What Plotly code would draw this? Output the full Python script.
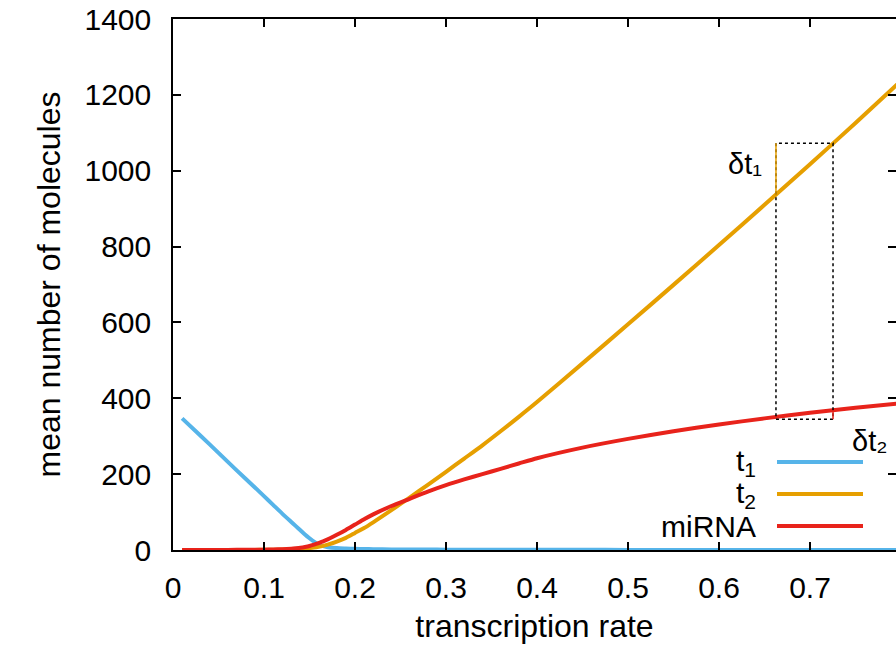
import numpy as np
import plotly.graph_objects as go

# ---- data ----
rate = [0.01, 0.03, 0.05, 0.07, 0.09, 0.10, 0.11, 0.12, 0.13, 0.135, 0.14, 0.145, 0.15, 0.155, 0.16,
        0.165, 0.17, 0.18, 0.19, 0.20, 0.21, 0.22, 0.24, 0.26, 0.28, 0.30, 0.32, 0.34, 0.36, 0.38, 0.40,
        0.45, 0.50, 0.55, 0.60, 0.65, 0.70, 0.75, 0.80]
t1 = [347, 302, 256, 210, 165, 142, 119, 96, 74, 63, 52, 41, 31, 22, 15,
      10, 7.5, 5, 4, 3.2, 2.6, 2.2, 1.6, 1.3, 1.1, 0.9, 0.8, 0.7, 0.6, 0.5, 0.5,
      0.4, 0.3, 0.3, 0.2, 0.2, 0.2, 0.1, 0.1]
t2 = [0, 0, 0, 0.1, 0.3, 0.5, 0.8, 1.2, 2, 2.5, 3, 4, 5, 6.5, 8.5,
      11, 14, 22, 32, 45, 58, 73, 105, 138, 172, 206, 241, 276, 313, 351, 390,
      492, 595, 699, 804, 910, 1017, 1126, 1237]
mirna = [0, 0.1, 0.2, 0.4, 0.7, 0.9, 1.4, 2.2, 3.5, 4.6, 6, 8, 10.5, 14, 18,
         23, 28, 40, 53, 67, 81, 94, 116, 135, 154, 171, 186, 200, 214, 228, 242,
         270, 293, 313, 331, 347, 362, 375, 387]

marker_x = [0.6626, 0.7253]          # the two rates of the delta box
series_names = ["t<sub>1</sub>", "t<sub>2</sub>", "miRNA"]
y_ticks = [0, 200, 400, 600, 800, 1000, 1200, 1400]
x_ticks = [0, 0.1, 0.2, 0.3, 0.4, 0.5, 0.6, 0.7]
x_tick_text = ["0", "0.1", "0.2", "0.3", "0.4", "0.5", "0.6", "0.7"]

BLUE = "#56b4e9"
ORANGE = "#e69f00"
RED = "#e8231b"
FONT = "Liberation Sans, Arial, Helvetica, sans-serif"

W, H = 896, 653
ML, MT, MB, MR = 173, 19, 103, 0

fig = go.Figure()
for ys, col in [(t1, BLUE), (t2, ORANGE), (mirna, RED)]:
    fig.add_trace(go.Scatter(x=rate, y=ys, mode="lines",
                             line=dict(color=col, width=4, shape="spline", smoothing=0.6),
                             showlegend=False, hoverinfo="skip"))
# anchor trace so the mirrored right-hand ticks get drawn
fig.add_trace(go.Scatter(x=[None], y=[None], yaxis="y2", mode="lines",
                         showlegend=False, hoverinfo="skip"))

# delta box from data
x0, x1 = marker_x
t2_x0 = float(np.interp(x0, rate, t2))
t2_x1 = float(np.interp(x1, rate, t2))
mi_x0 = float(np.interp(x0, rate, mirna)) - 6
mi_x1 = float(np.interp(x1, rate, mirna))

shapes = [
    dict(type="rect", xref="x", yref="y", x0=x0, x1=x1, y0=mi_x0, y1=t2_x1,
         line=dict(color="black", width=1.5, dash="dot")),
    dict(type="line", xref="x", yref="y", x0=x0, x1=x0, y0=t2_x0, y1=t2_x1,
         line=dict(color=ORANGE, width=1.5)),
    dict(type="line", xref="x", yref="y", x0=x1, x1=x1, y0=mi_x0, y1=mi_x1,
         line=dict(color=RED, width=1.5)),
]

# manual gnuplot-style key (text left of sample line)
pw = W - ML - MR
ph = H - MT - MB
def px(p):
    return (p - ML) / pw
def py(p):
    return (H - MB - p) / ph

annotations = []
key_rows = [462, 494, 526]
for name, col, row in zip(series_names, [BLUE, ORANGE, RED], key_rows):
    shapes.append(dict(type="line", xref="paper", yref="paper",
                       x0=px(777), x1=px(863), y0=py(row), y1=py(row),
                       line=dict(color=col, width=4)))
    annotations.append(dict(xref="paper", yref="paper", x=px(758), y=py(row),
                            text=name, showarrow=False, xanchor="right", yanchor="middle",
                            font=dict(size=30, color="black", family=FONT)))

annotations.append(dict(xref="x", yref="y", x=x0, y=(t2_x0 + t2_x1) / 2 + 12,
                        text="δt₁", showarrow=False, xanchor="right", yanchor="middle",
                        xshift=-12, font=dict(size=29, color="black", family=FONT)))
annotations.append(dict(xref="x", yref="y", x=x1, y=mi_x0,
                        text="δt₂", showarrow=False, xanchor="left", yanchor="top",
                        xshift=17, yshift=-4, font=dict(size=29, color="black", family=FONT)))

fig.update_layout(
    width=W, height=H,
    margin=dict(l=ML, r=MR, t=MT, b=MB, pad=0),
    paper_bgcolor="white", plot_bgcolor="white",
    font=dict(family=FONT, size=30, color="black"),
    shapes=shapes, annotations=annotations,
    showlegend=False,
    xaxis=dict(range=[0, pw / 910.0], tickvals=x_ticks, ticktext=x_tick_text,
               ticks="inside", ticklen=8, tickwidth=1.5, tickcolor="black",
               showline=True, linecolor="black", linewidth=1.5, mirror="ticks",
               showgrid=False, zeroline=False, ticklabelstandoff=10,
               title=dict(text="transcription rate", font=dict(size=32), standoff=12),
               tickfont=dict(size=30)),
    yaxis=dict(range=[0, 1400], tickvals=y_ticks,
               ticks="inside", ticklen=8, tickwidth=1.5, tickcolor="black",
               showline=True, linecolor="black", linewidth=1.5, mirror=False,
               showgrid=False, zeroline=False, ticklabelstandoff=14,
               title=dict(text="mean number of molecules", font=dict(size=32), standoff=14),
               tickfont=dict(size=30)),
    yaxis2=dict(range=[0, 1400], tickvals=y_ticks, overlaying="y", side="right", anchor="x",
                ticks="inside", ticklen=8, tickwidth=1.5, tickcolor="black",
                showline=False, showgrid=False, zeroline=False, showticklabels=False),
)

fig.write_html("out.html")
